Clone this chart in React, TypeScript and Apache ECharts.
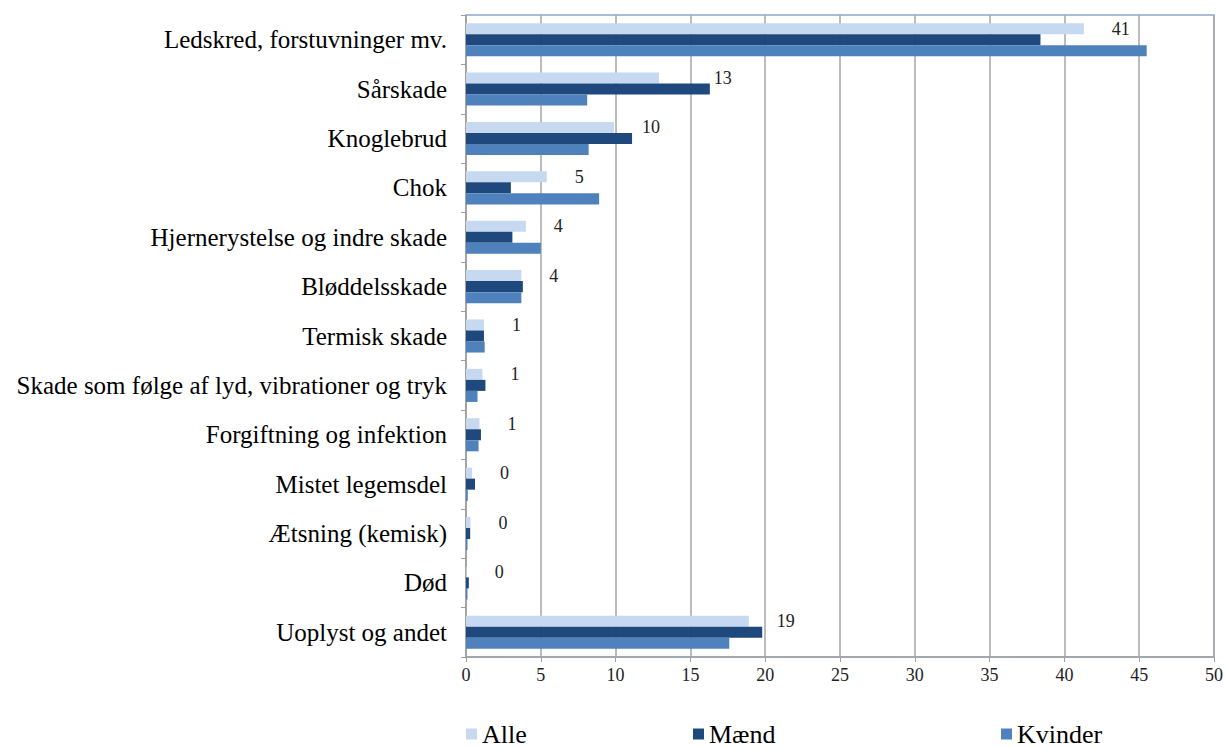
import React, { useEffect, useRef } from "react";
import * as echarts from "echarts";

const categories = [
  "Ledskred, forstuvninger mv.",
  "Sårskade",
  "Knoglebrud",
  "Chok",
  "Hjernerystelse og indre skade",
  "Bløddelsskade",
  "Termisk skade",
  "Skade som følge af lyd, vibrationer og tryk",
  "Forgiftning og infektion",
  "Mistet legemsdel",
  "Ætsning (kemisk)",
  "Død",
  "Uoplyst og andet",
];
const alle = [41.3, 12.9, 9.9, 5.4, 4.0, 3.7, 1.2, 1.1, 0.9, 0.4, 0.3, 0.05, 18.9];
const maend = [38.4, 16.3, 11.1, 3.0, 3.1, 3.8, 1.2, 1.3, 1.0, 0.6, 0.28, 0.19, 19.8];
const kvinder = [45.5, 8.1, 8.2, 8.9, 5.0, 3.7, 1.25, 0.77, 0.84, 0.12, 0.1, 0.1, 17.6];
const xTicks = { min: 0, max: 50, interval: 5 };

const serif = "'Liberation Serif', 'DejaVu Serif', serif";

export default function App() {
  const ref = useRef<HTMLDivElement>(null);
  useEffect(() => {
    if (!ref.current) return;
    const chart = echarts.init(ref.current, null, { renderer: "svg" });
    const legendText = { fontFamily: serif, fontSize: 26, color: "#000" };
    const legendBase = { top: 721, itemWidth: 11, itemHeight: 11, itemGap: 4, textStyle: legendText, icon: "rect", padding: 0 };
    chart.setOption({
      animation: false,
      backgroundColor: "#fff",
      grid: {
        left: 466,
        right: 12,
        top: 15,
        bottom: 92,
        show: true,
        borderColor: "#8FA8CC",
        borderWidth: 1.5,
      },
      legend: [
        { ...legendBase, data: ["Alle"], left: 466 },
        { ...legendBase, data: ["Mænd"], left: 693 },
        { ...legendBase, data: ["Kvinder"], left: 1001 },
      ],
      xAxis: {
        type: "value",
        min: xTicks.min,
        max: xTicks.max,
        interval: xTicks.interval,
        axisLine: { show: true, lineStyle: { color: "#A0A0A0", width: 1.5 } },
        axisTick: { show: true, length: 5, lineStyle: { color: "#A0A0A0" } },
        splitLine: { show: true, lineStyle: { color: "#A6A6A6", width: 1.5 } },
        axisLabel: { fontFamily: serif, fontSize: 18, color: "#222", margin: 9 },
      },
      yAxis: {
        type: "category",
        inverse: true,
        data: categories,
        axisLine: { show: true, lineStyle: { color: "#A0A0A0", width: 1.5 } },
        axisTick: { show: true, length: 5, lineStyle: { color: "#A0A0A0" } },
        axisLabel: { fontFamily: serif, fontSize: 25, color: "#000", margin: 19 },
      },
      series: [
        {
          name: "Alle",
          type: "bar",
          data: alle,
          barGap: "0%",
          barCategoryGap: "33%",
          itemStyle: { color: "#C6D9F1" },
          label: {
            show: true,
            position: "right",
            distance: 28,
            fontFamily: serif,
            fontSize: 18,
            color: "#222",
            formatter: (p: any) => String(Math.round(p.value)),
          },
          labelLayout: (params: any) => {
            const mPx = chart.convertToPixel({ xAxisIndex: 0 }, maend[params.dataIndex]) as number;
            const r = params.labelRect;
            return {
              x: Math.max(r.x, mPx + 4),
              y: r.y + r.height / 2,
              align: "left",
              verticalAlign: "middle",
            };
          },
        },
        { name: "Mænd", type: "bar", data: maend, itemStyle: { color: "#1F497D" } },
        { name: "Kvinder", type: "bar", data: kvinder, itemStyle: { color: "#4F81BD" } },
      ],
    });
    return () => chart.dispose();
  }, []);
  return (
    <div
      ref={ref}
      style={{ position: "fixed", left: 0, top: 0, width: 1226, height: 749 }}
    />
  );
}
